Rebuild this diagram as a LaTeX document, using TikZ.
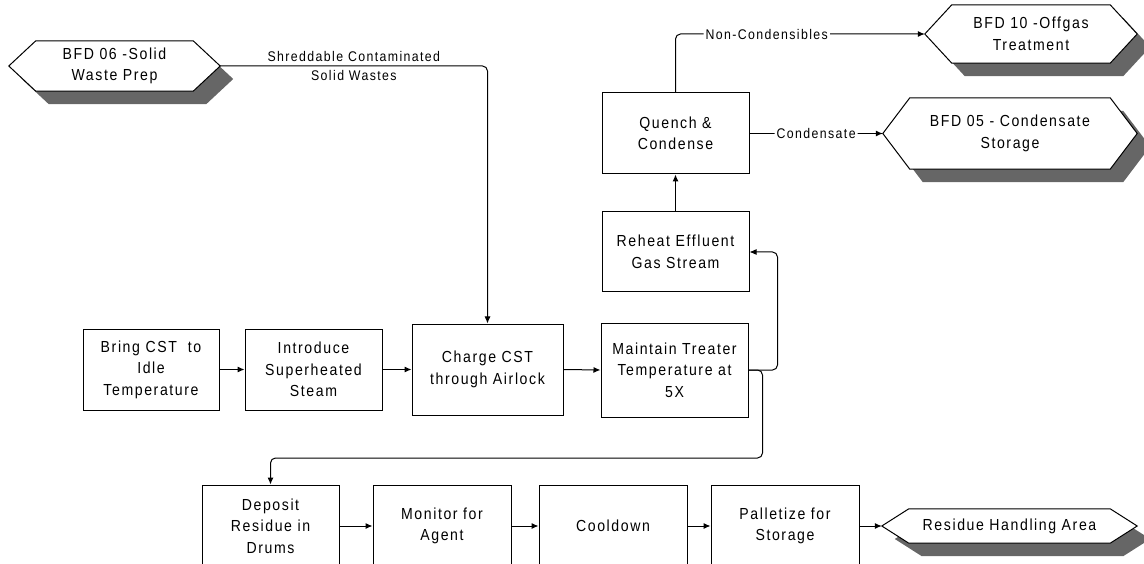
\documentclass[tikz,border=0pt]{standalone}
\usepackage{fontspec}
\setmainfont{Liberation Sans}[FakeStretch=0.88,LetterSpace=10]
\usetikzlibrary{arrows.meta}
\definecolor{shadowgray}{HTML}{666666}
\pgfdeclarelayer{bg}
\pgfsetlayers{bg,main}
\tikzset{
 stepbox/.style={draw,line width=1pt,inner sep=0pt,align=center,font=\fontsize{16}{21.5}\selectfont},
 hexbox/.style={inner sep=0pt,align=center,font=\fontsize{16}{21.5}\selectfont},
 flow/.style={line width=1pt,-{Latex[length=7pt,width=6pt]},rounded corners=5pt},
 flowlabel/.style={inner sep=2pt,align=center,font=\fontsize{14}{19}\selectfont}
}
\begin{document}
\begin{tikzpicture}[x=1pt,y=-1pt]
 \clip (0,0) rectangle (1144,564);
 % terminals
 \node[hexbox,minimum width=211,minimum height=50] (bfd06) at (114.5,66) {BFD 06 -Solid\\Waste Prep};
 \node[hexbox,minimum width=212,minimum height=58] (bfd10) at (1031,34) {BFD 10 -Offgas\\Treatment};
 \node[hexbox,minimum width=254,minimum height=71] (bfd05) at (1010,133.5) {BFD 05 - Condensate\\Storage};
 \node[hexbox,minimum width=255,minimum height=34] (resid) at (1009.5,526) {Residue Handling Area};
 % process steps
 \node[stepbox,minimum width=136,minimum height=81] (bring) at (151,369.5) {Bring CST\ \ to\\Idle\\Temperature};
 \node[stepbox,minimum width=137,minimum height=81] (intro) at (313.5,369.5) {Introduce\\Superheated\\Steam};
 \node[stepbox,minimum width=151,minimum height=91] (charge) at (487.5,369.5) {Charge CST\\through Airlock};
 \node[stepbox,minimum width=147,minimum height=94] (maintain) at (674.5,370) {Maintain Treater\\Temperature at\\5X};
 \node[stepbox,minimum width=147,minimum height=80] (reheat) at (675.5,252) {Reheat Effluent\\Gas Stream};
 \node[stepbox,minimum width=147,minimum height=81] (quench) at (675.5,133.5) {Quench \&\\Condense};
 \node[stepbox,minimum width=137,minimum height=82] (deposit) at (270.5,526) {Deposit\\Residue in\\Drums};
 \node[stepbox,minimum width=138,minimum height=82] (monitor) at (442,526) {Monitor for\\Agent};
 \node[stepbox,minimum width=148,minimum height=82] (cool) at (613,526) {Cooldown};
 \node[stepbox,minimum width=148,minimum height=82] (pallet) at (785,526) {Palletize for\\Storage};
 % hexagon outlines with shadows
 \begin{pgfonlayer}{bg}
 \foreach \n in {bfd06,bfd10,bfd05,resid}{
  \fill[shadowgray] ([shift={(40,13)}]\n.north west) -- ([shift={(-14,13)}]\n.north east) -- ([shift={(13,13)}]\n.east)
   -- ([shift={(-14,13)}]\n.south east) -- ([shift={(40,13)}]\n.south west) -- ([shift={(13,13)}]\n.west) -- cycle;
  \draw[line width=1pt,fill=white] ([xshift=27]\n.north west) -- ([xshift=-27]\n.north east) -- (\n.east)
   -- ([xshift=-27]\n.south east) -- ([xshift=27]\n.south west) -- (\n.west) -- cycle;
 }
 \end{pgfonlayer}
 % flows
 \draw[flow] (bfd06.east) -| node[flowlabel,pos=0.25] {Shreddable Contaminated\\Solid Wastes} (charge.north);
 \draw[flow] (bring.east) -- (intro.west);
 \draw[flow] (intro.east) -- (charge.west);
 \draw[flow] (charge.east) -- (maintain.west);
 \draw[flow] (maintain.east) -- ++(29,0) |- (reheat.east);
 \draw[flow] (reheat.north) -- (quench.south);
 \draw[flow] (quench.north) |- node[flowlabel,fill=white,pos=0.683] {Non-Condensibles} (bfd10.west);
 \draw[flow] (quench.east) -- node[flowlabel,fill=white] {Condensate} (bfd05.west);
 \draw[flow] (maintain.east) -- ++(14,0) -- ++(0,88) -| (deposit.north);
 \draw[flow] (deposit.east) -- (monitor.west);
 \draw[flow] (monitor.east) -- (cool.west);
 \draw[flow] (cool.east) -- (pallet.west);
 \draw[flow] (pallet.east) -- (resid.west);
\end{tikzpicture}
\end{document}
